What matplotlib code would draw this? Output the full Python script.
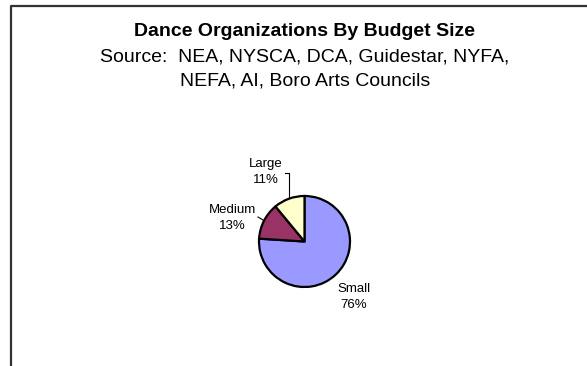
import matplotlib.pyplot as plt

# budget size shares for dance organizations
categories = ["Small", "Medium", "Large"]
shares = [76, 13, 11]
colors = ["#9999FF", "#993366", "#FFFFCC"]

title = "Dance Organizations By Budget Size"
subtitle = ["Source:  NEA, NYSCA, DCA, Guidestar, NYFA,", "NEFA, AI, Boro Arts Councils"]

W, H = 587, 366
plt.rcParams['font.family'] = ['Liberation Sans', 'DejaVu Sans']

fig = plt.figure(figsize=(W / 100, H / 100), dpi=100)
ax = fig.add_axes([0, 0, 1, 1])

# pie drawn in pixel units (y measured from bottom)
cx, cy, r = 304.5, H - 241.5, 45.5
wedges, _ = ax.pie(shares, colors=colors, startangle=90, counterclock=False,
                   center=(cx, cy), radius=r,
                   wedgeprops=dict(edgecolor="black", linewidth=1.6))

ax.set_xlim(0, W)
ax.set_ylim(0, H)
ax.set_aspect("equal")
ax.axis("off")

# data labels
label_pos = {"Small": (354, H - 297), "Medium": (232, H - 218), "Large": (266, H - 172)}
for cat, val in zip(categories, shares):
    x, y = label_pos[cat]
    ax.text(x, y, f"{cat}\n{val}%", ha="center", va="center", fontsize=9.5,
            linespacing=1.35)

# leader lines
ax.plot([285, 289, 289], [H - 173, H - 173, H - 197], color="black", lw=0.8)
ax.plot([258, 263], [H - 217, H - 220], color="black", lw=0.8)

# titles
tx = 305
ax.text(tx, H - 31, title, ha="center", va="center", fontsize=14, fontweight="bold")
ax.text(tx, H - 57, subtitle[0], ha="center", va="center", fontsize=14)
ax.text(tx, H - 81, subtitle[1], ha="center", va="center", fontsize=14)

# chart area border (runs off the right and bottom)
ax.plot([11, 11, W + 5], [-5, H - 6, H - 6], color="#333333", lw=1.6, clip_on=False)

fig.savefig("out.png", dpi=100)
